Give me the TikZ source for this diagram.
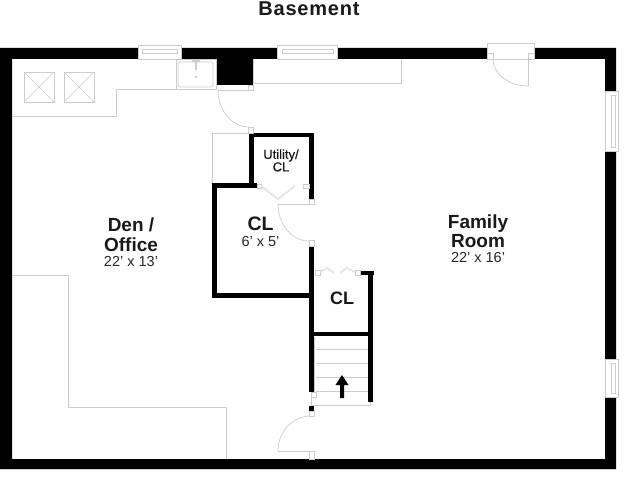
\documentclass[tikz,border=0pt]{standalone}
\usepackage{fontspec}
\setmainfont{Liberation Sans}
\newfontfamily\semifont[FakeBold=0.25]{Liberation Sans}
\definecolor{fine}{gray}{0.80}
\tikzset{
  wall/.style={fill=black,draw=none},
  thin line/.style={draw=fine,line width=0.7pt},
  frame box/.style={draw=fine,line width=0.6pt,fill=white},
  big label/.style={font=\fontsize{19}{19.5}\selectfont\bfseries,align=center,text=black!90,inner sep=0pt},
  dim label/.style={font=\fontsize{14.5}{14}\selectfont,text=black!85,inner sep=0pt},
  x=1pt,y=-1pt
}
\begin{document}
\begin{tikzpicture}
\useasboundingbox (0,0) rectangle (640,478);
\fill[white] (0,0) rectangle (640,478);
% counters and light outlines
\draw[thin line] (12,116) -- (116,116) -- (116,89) -- (176,89);
\draw[thin line] (253,59) -- (253,83) -- (401,83) -- (401,59);
\draw[thin line] (12,275) -- (68,275) -- (68,407) -- (226,407) -- (226,459);
\draw[thin line] (212,183) -- (212,133) -- (249,133);
% closets on the counter
\foreach \xa in {24,64}{
  \draw[thin line] (\xa,72) rectangle +(30,30);
  \draw[thin line] (\xa,72) -- +(30,30);
  \draw[thin line] (\xa,102) -- +(30,-30);
}
% sink
\draw[thin line] (176,59) rectangle (216,89);
\draw[thin line,rounded corners=1.5pt] (178,62) rectangle (213,87);
\fill[fine] (192,59) rectangle (200,62);
\fill[fine] (195,62) rectangle (197,70);
\fill[fine] (195,76) rectangle (197,78);
% outer walls
\path[wall,even odd rule] (0,48) rectangle (616,469) (12,59) rectangle (605,459);
\draw[fine,line width=0.6pt] (0,469.5) -- (616,469.5);
\path[wall] (217,59) rectangle (253,85);
% inner walls
\path[wall] (249,133) rectangle (314,137);
\path[wall] (249,133) rectangle (254,188);
\path[wall] (309,133) rectangle (314,199);
\path[wall] (212,183) rectangle (257,188);
\path[wall] (212,183) rectangle (217,298);
\path[wall] (212,293) rectangle (314,298);
\path[wall] (309,246) rectangle (314,392);
\path[wall] (309,406) rectangle (314,411);
\path[wall] (360,271) rectangle (374,275);
\path[wall] (368,271) rectangle (373,402);
\path[wall] (314,332) rectangle (368,336);
% windows
\draw[frame box] (138,45) rectangle (181,59);
\draw[thin line] (142,49) rectangle (177,53);
\draw[frame box] (277,45) rectangle (337,59);
\draw[thin line] (282,49) rectangle (333,53);
\draw[frame box] (605,91) rectangle (618,151);
\draw[thin line] (611,95) rectangle (615,147);
\draw[frame box] (605,359) rectangle (618,397);
\draw[thin line] (611,363) rectangle (615,393);
% top right door
\draw[frame box] (487,43) rectangle (534,59);
\draw[frame box] (487,53) rectangle (493,59);
\draw[frame box] (528,53) rectangle (534,59);
\draw[thin line] (528,59) -- (528,86);
\draw[thin line] (528,86) arc[start angle=90,end angle=180,x radius=35,y radius=27];
% upper middle door
\draw[thin line] (218,90) -- (248,90);
\draw[thin line] (218,90) arc[start angle=180,end angle=270,x radius=31,y radius=-37];
\draw[frame box] (248,85) rectangle (253,90);
\draw[frame box] (248,127) rectangle (253,133);
% utility door
\draw[thin line] (278,204) -- (314,204);
\draw[thin line] (278,204) arc[start angle=180,end angle=270,x radius=31,y radius=-37];
\draw[frame box] (309,199) rectangle (314,204);
\draw[frame box] (309,240) rectangle (314,246);
% bifold utility
\draw[frame box] (257,184) rectangle (261,188);
\draw[frame box] (303,184) rectangle (309,188);
\draw[fine,line width=1.5pt] (261,186) -- (278,199) -- (295,186);
\draw[white,line width=0.5pt] (261,186) -- (278,199) -- (295,186);
% bifold lower CL
\draw[frame box] (315,270) rectangle (320,275);
\draw[frame box] (355,270) rectangle (360,275);
\draw[fine,line width=1.5pt] (320,272) -- (327,268) -- (334,273);
\draw[fine,line width=1.5pt] (340,273) -- (347,268) -- (355,272);
\draw[white,line width=0.5pt] (320,272) -- (327,268) -- (334,273);
\draw[white,line width=0.5pt] (340,273) -- (347,268) -- (355,272);
% stairs
\draw[thin line] (314,337) -- (314,392);
\draw[thin line] (311,392) -- (311,405) -- (370,405) -- (370,402);
\draw[frame box] (311,392) rectangle (316,397);
\foreach \ya in {349,363,377,391}{\draw[thin line] (316,\ya) -- (368,\ya);}
\fill[black] (340,398) -- (340,385) -- (335.5,385) -- (342,375) -- (348.5,385) -- (344,385) -- (344,398) -- cycle;
% lower door
\draw[thin line] (278,451) -- (314,451);
\draw[thin line] (278,451) arc[start angle=180,end angle=90,x radius=33,y radius=-35];
\draw[frame box] (309,411) rectangle (314,416);
\draw[frame box] (309,451) rectangle (314,459);
% labels
\node[font=\fontsize{20}{22}\selectfont\bfseries\addfontfeature{LetterSpace=4},text=black!90,inner sep=0pt] (ttl) at (309,9) {Basement};
\node[big label] (den) at (131,234.5) {Den /\\Office};
\node[dim label] (dend) at (131,261.5) {22' x 13'};
\node[big label,font=\fontsize{19.5}{19}\selectfont\bfseries] (cl1) at (260.5,224) {CL};
\node[dim label] (cl1d) at (260.5,241.5) {6' x 5'};
\node[font=\fontsize{13}{12.5}\selectfont\semifont,align=center,inner sep=0pt,text=black!90] (ut) at (281,160.5) {Utility/\\CL};
\node[big label,font=\fontsize{18}{18}\selectfont\bfseries] (cl2) at (342,298) {CL};
\node[big label] (fr) at (478,231) {Family\\Room};
\node[dim label] (frd) at (478,257.5) {22' x 16'};
\end{tikzpicture}
\end{document}
